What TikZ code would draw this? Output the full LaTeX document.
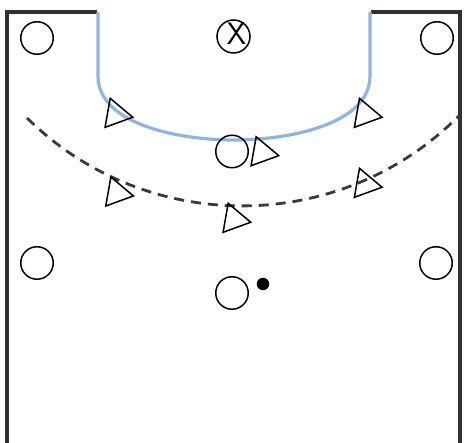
\documentclass[tikz,border=0pt]{standalone}
\usetikzlibrary{shapes.geometric}
\definecolor{courtline}{HTML}{352D32}
\definecolor{goalblue}{HTML}{8DB5E2}
\definecolor{dashgray}{HTML}{3A3840}
\tikzset{
  court/.style={draw=courtline, line width=3.5pt},
  goalarea/.style={draw=goalblue, line width=3.2pt},
  freethrow/.style={draw=dashgray, line width=2.8pt, dash pattern=on 10pt off 7pt},
  attacker/.style={circle, draw=black, line width=1.5pt, minimum size=32.5pt, inner sep=0pt},
  defender/.style={regular polygon, regular polygon sides=3, draw=black, line width=1.5pt, minimum size=34pt, inner sep=0pt, rotate=-100},
  keeper/.style={circle, draw=black, line width=1.5pt, minimum size=33pt, inner sep=0pt},
  ball/.style={circle, fill=black, minimum size=12.5pt, inner sep=0pt},
}
\begin{document}
\begin{tikzpicture}[x=1pt, y=-1pt]
\useasboundingbox (0,0) rectangle (464,443);
\fill[white] (0,0) rectangle (464,443);
% court outline
\coordinate (bl) at (7,443);
\coordinate (tl) at (7,12);
\coordinate (gl) at (97,12);
\coordinate (gr) at (371,12);
\coordinate (tr) at (460,12);
\coordinate (br) at (460,443);
\draw[court] (bl) -- (tl) -- (gl);
\draw[court] (gr) -- (tr) -- (br);
% goal area
\coordinate (ga1) at (98,12);
\coordinate (ga2) at (98,76);
\coordinate (gab) at (234,140);
\coordinate (ga3) at (370,76);
\coordinate (ga4) at (370,12);
\draw[goalarea] (ga1) -- (ga2) .. controls (98,124) and (178,140) .. (gab)
  .. controls (290,140) and (370,124) .. (ga3) -- (ga4);
% free throw line
\coordinate (ftl) at (27,118);
\draw[freethrow] (ftl) arc[start angle=134.5, end angle=44.8, radius=306.6];
% goalkeeper
\node[keeper] (gk) at (233.5,36.5) {};
\node[font=\fontsize{31}{31}\selectfont\sffamily, inner sep=0pt] (gkx) at (236.5,33.5) {X};
% attackers
\node[attacker] (a1) at (37,38) {};
\node[attacker] (a2) at (437,38) {};
\node[attacker] (a3) at (37,263) {};
\node[attacker] (a4) at (436,263) {};
\node[attacker] (a5) at (232,151.5) {};
\node[attacker] (a6) at (232,293) {};
% ball
\node[ball] (b) at (263,284) {};
% defenders
\node[defender] (d1) at (116,114.3) {};
\node[defender] (d2) at (365.3,114.3) {};
\node[defender] (d3) at (262,152.7) {};
\node[defender] (d4) at (116.7,193) {};
\node[defender] (d5) at (365.3,184.3) {};
\node[defender] (d6) at (234,219.3) {};
\end{tikzpicture}
\end{document}
